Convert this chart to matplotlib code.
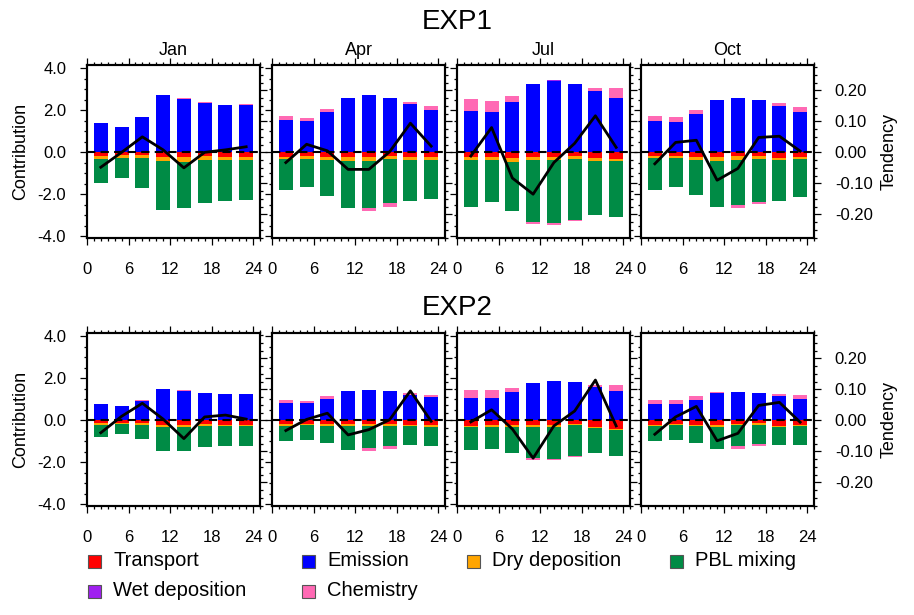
import numpy as np
import matplotlib
matplotlib.use('Agg')
import matplotlib.pyplot as plt
from matplotlib.patches import Rectangle
from matplotlib.ticker import MultipleLocator

plt.rcParams['font.family'] = ['Liberation Sans', 'DejaVu Sans']

# ==================== data ====================
months = ['Jan', 'Apr', 'Jul', 'Oct']
hours = [2, 5, 8, 11, 14, 17, 20, 23]
exp_names = ['EXP1', 'EXP2']

comp_names = ['Transport', 'Emission', 'Dry deposition', 'PBL mixing', 'Wet deposition', 'Chemistry']
comp_colors = ['#FF0000', '#0000FF', '#FFA500', '#008B45', '#A020F0', '#FF69B4']

# EXP1 (rows: Jan, Apr, Jul, Oct)
transport1 = [[-0.17, -0.13, -0.13, -0.22, -0.22, -0.19, -0.22, -0.22],
              [-0.22, -0.16, -0.22, -0.22, -0.22, -0.17, -0.22, -0.22],
              [-0.22, -0.22, -0.27, -0.22, -0.22, -0.17, -0.27, -0.32],
              [-0.17, -0.17, -0.22, -0.22, -0.16, -0.17, -0.27, -0.22]]
emission1 = [[1.41, 1.21, 1.68, 2.75, 2.54, 2.35, 2.25, 2.27],
             [1.54, 1.49, 1.92, 2.59, 2.75, 2.59, 2.30, 2.02],
             [1.97, 1.92, 2.40, 3.25, 3.38, 3.25, 2.92, 2.59],
             [1.49, 1.44, 1.83, 2.49, 2.59, 2.49, 2.21, 1.92]]
drydep1 = [[-0.15, -0.12, -0.12, -0.18, -0.22, -0.16, -0.13, -0.13],
           [-0.10, -0.16, -0.15, -0.19, -0.19, -0.15, -0.15, -0.15],
           [-0.15, -0.15, -0.19, -0.15, -0.15, -0.15, -0.14, -0.09],
           [-0.10, -0.10, -0.15, -0.19, -0.21, -0.15, -0.10, -0.10]]
pbl1 = [[-1.12, -0.96, -1.43, -2.33, -2.19, -2.05, -1.95, -1.90],
        [-1.46, -1.31, -1.69, -2.22, -2.22, -2.11, -1.93, -1.84],
        [-2.22, -1.98, -2.32, -2.95, -3.00, -2.90, -2.57, -2.65],
        [-1.51, -1.36, -1.66, -2.18, -2.14, -2.03, -1.93, -1.82]]
wetdep1 = [[0, 0, 0, 0, 0, 0, 0, 0],
           [0, 0, 0, 0, 0, 0, 0, 0],
           [0, 0, 0, 0, 0.05, 0, 0, 0],
           [0, 0, 0, 0, 0, 0, 0, 0]]
chem1 = [[0, 0, 0, 0, 0.05, 0.05, 0, 0.05],
         [0.19, 0.14, 0.14, 0, -0.15, -0.16, 0.10, 0.19],
         [0.57, 0.52, 0.29, -0.09, -0.09, -0.05, 0.14, 0.48],
         [0.24, 0.24, 0.19, 0, -0.12, -0.09, 0.14, 0.24]]
tend1 = [[-0.048, 0.000, 0.050, 0.008, -0.050, 0.000, 0.008, 0.018],
         [-0.033, 0.026, 0.005, -0.055, -0.055, 0.002, 0.094, 0.020],
         [-0.012, 0.080, -0.083, -0.135, -0.033, 0.029, 0.118, 0.016],
         [-0.037, 0.032, 0.039, -0.090, -0.052, 0.048, 0.052, 0.004]]

# EXP2
transport2 = [[-0.14, -0.14, -0.14, -0.24, -0.24, -0.19, -0.24, -0.24],
              [-0.19, -0.19, -0.19, -0.19, -0.19, -0.19, -0.24, -0.24],
              [-0.27, -0.22, -0.24, -0.24, -0.24, -0.19, -0.33, -0.43],
              [-0.24, -0.19, -0.24, -0.24, -0.19, -0.14, -0.29, -0.24]]
emission2 = [[0.76, 0.67, 0.90, 1.48, 1.38, 1.29, 1.24, 1.24],
             [0.81, 0.81, 1.00, 1.38, 1.43, 1.38, 1.19, 1.10],
             [1.05, 1.05, 1.33, 1.76, 1.86, 1.81, 1.57, 1.38],
             [0.76, 0.76, 0.95, 1.29, 1.33, 1.29, 1.14, 1.00]]
drydep2 = [[-0.10, -0.05, -0.10, -0.09, -0.09, -0.10, -0.05, -0.05],
           [-0.10, -0.05, -0.10, -0.10, -0.10, -0.10, -0.05, -0.09],
           [-0.06, -0.11, -0.08, -0.08, -0.08, -0.05, -0.05, -0.05],
           [-0.05, -0.05, -0.05, -0.09, -0.05, -0.10, -0.04, -0.05]]
pbl2 = [[-0.55, -0.46, -0.65, -1.13, -1.13, -0.98, -0.93, -0.93],
        [-0.69, -0.70, -0.79, -1.12, -1.03, -0.93, -0.88, -0.89],
        [-1.08, -1.04, -1.24, -1.47, -1.52, -1.46, -1.18, -1.22],
        [-0.69, -0.70, -0.79, -1.04, -0.98, -0.89, -0.84, -0.88]]
wetdep2 = [[0, 0, 0, 0, 0, 0, 0, 0],
           [0, 0, 0, 0, 0, 0, 0, 0],
           [0, 0, 0, 0, 0, 0, 0, 0],
           [0, 0, 0, 0, 0, 0, 0, 0]]
chem2 = [[0, 0, 0.05, 0, 0.05, 0, 0, 0],
         [0.14, 0.10, 0.14, 0, -0.14, -0.15, 0.10, 0.10],
         [0.38, 0.38, 0.19, -0.10, -0.05, -0.05, 0.10, 0.29],
         [0.19, 0.19, 0.19, 0.05, -0.15, -0.09, 0.10, 0.19]]
tend2 = [[-0.040, 0.013, 0.055, 0.004, -0.059, 0.011, 0.017, 0.004],
         [-0.033, 0.003, 0.023, -0.047, -0.030, 0.002, 0.095, -0.003],
         [-0.005, 0.034, -0.028, -0.122, -0.018, 0.030, 0.130, -0.018],
         [-0.045, 0.011, 0.045, -0.066, -0.042, 0.048, 0.058, -0.006]]

exp_comps = [[transport1, emission1, drydep1, pbl1, wetdep1, chem1],
             [transport2, emission2, drydep2, pbl2, wetdep2, chem2]]
exp_tend = [tend1, tend2]

# ==================== plot ====================
fig = plt.figure(figsize=(9.14, 6.15), dpi=100)

W, H = 914, 615
lefts = [87, 272, 457, 641]
pw = 173
row_tops = [65, 333]
title_y = [22, 308]
ph = 173

ylim_c = (-4.08, 4.16)
scale_t = 0.1 * 21 / 31
ylim_t = (ylim_c[0] * scale_t, ylim_c[1] * scale_t)

x = np.array(hours)

for r in range(2):
    for c in range(4):
        ax = fig.add_axes([lefts[c] / W, 1 - (row_tops[r] + ph) / H, pw / W, ph / H])
        pos_base = np.zeros(len(hours))
        neg_base = np.zeros(len(hours))
        # 正值往上叠，负值往下叠
        for k, comp in enumerate(exp_comps[r]):
            vals = np.array(comp[c], dtype=float)
            pos = np.where(vals > 0, vals, 0)
            neg = np.where(vals < 0, vals, 0)
            ax.bar(x, pos, width=2.0, bottom=pos_base, color=comp_colors[k], linewidth=0)
            ax.bar(x, neg, width=2.0, bottom=neg_base, color=comp_colors[k], linewidth=0)
            pos_base += pos
            neg_base += neg
        ax.axhline(0, color='black', linestyle=(0, (4, 2.5)), linewidth=1.5, zorder=3)
        ax.set_xlim(0, 25)
        ax.set_ylim(*ylim_c)
        ax.xaxis.set_major_locator(MultipleLocator(6))
        ax.xaxis.set_minor_locator(MultipleLocator(1))
        ax.yaxis.set_minor_locator(MultipleLocator(0.5))
        ax.tick_params(which='both', direction='out', top=True, right=False, width=0.9,
                       labelsize=12)
        ax.tick_params(which='major', length=5)
        ax.tick_params(which='minor', length=2.5)
        ax.tick_params(axis='x', pad=12)
        ax.tick_params(axis='y', pad=10)
        ax.set_yticks([-4, -2, 0, 2, 4])
        ax.set_yticklabels(['-4.0', '-2.0', '0.0', '2.0', '4.0'])
        if c != 0:
            ax.tick_params(axis='y', labelleft=False)
        else:
            ax.set_ylabel('Contribution', fontsize=13, labelpad=6)
        for sp in ax.spines.values():
            sp.set_linewidth(1.5)

        ax2 = ax.twinx()
        ax2.plot(x, exp_tend[r][c], color='black', linewidth=2.0, zorder=4)
        ax2.set_ylim(*ylim_t)
        ax2.set_yticks([-0.2, -0.1, 0, 0.1, 0.2])
        ax2.yaxis.set_minor_locator(MultipleLocator(0.025))
        ax2.tick_params(which='both', direction='out', width=0.9, labelsize=12, pad=10)
        ax2.tick_params(which='major', length=5)
        ax2.tick_params(which='minor', length=2.5)
        if c != 3:
            ax2.tick_params(axis='y', labelright=False)
        else:
            ax2.set_yticklabels(['-0.20', '-0.10', '0.00', '0.10', '0.20'])
            ax2.set_ylabel('Tendency', fontsize=13, labelpad=6)
        for sp in ax2.spines.values():
            sp.set_linewidth(1.5)

        if r == 0:
            ax.set_title(months[c], fontsize=13, pad=7)

    fig.text(0.5, 1 - title_y[r] / H, exp_names[r], ha='center', va='center', fontsize=20)

# 图例（手动画）
leg_items = [(0, 88, 561), (1, 302, 561), (2, 467, 561), (3, 670, 561), (4, 88, 591), (5, 302, 591)]
for k, px, py in leg_items:
    fig.patches.append(Rectangle((px / W, 1 - (py + 6.5) / H), 13 / W, 13 / H,
                                 transform=fig.transFigure, facecolor=comp_colors[k],
                                 edgecolor='#555555', linewidth=0.8))
    fig.text((px + 25) / W, 1 - py / H, comp_names[k], ha='left', va='center', fontsize=14.5)

fig.savefig('out.png', dpi=100)
